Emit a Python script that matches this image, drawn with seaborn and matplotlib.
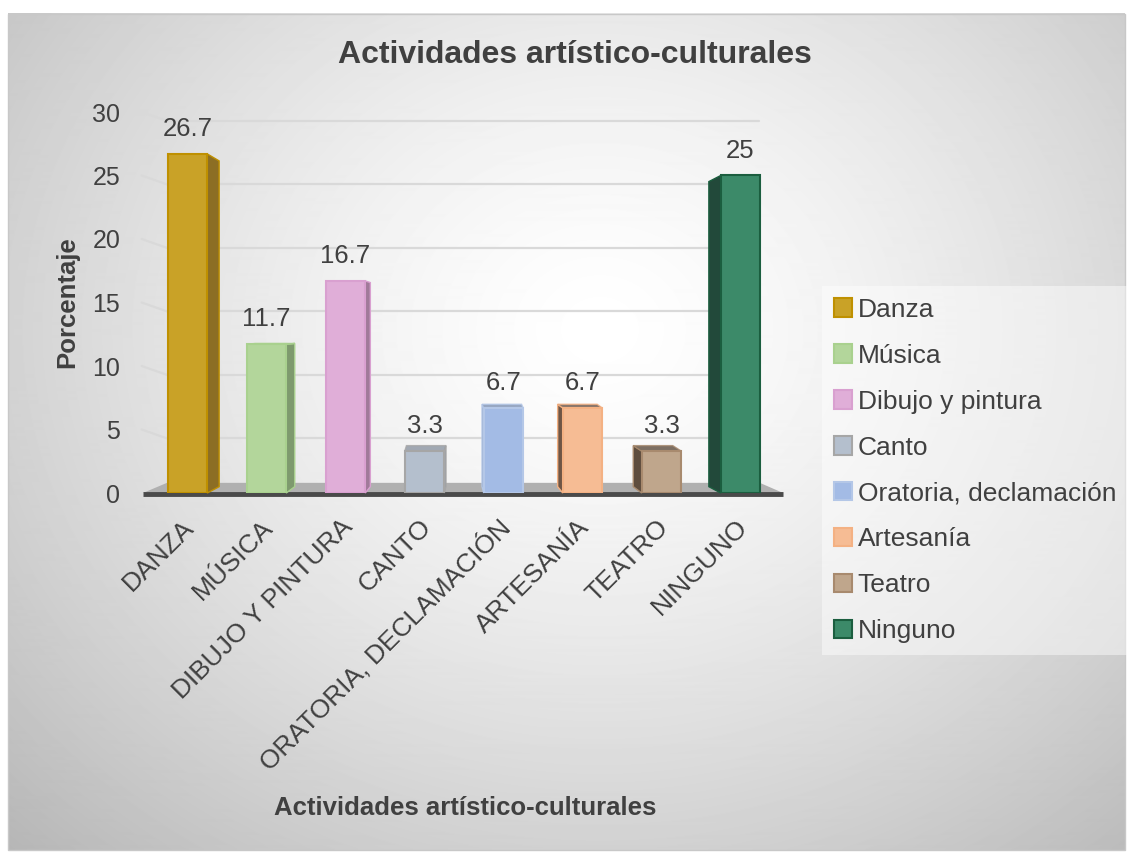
import numpy as np
import pandas as pd
import matplotlib.pyplot as plt
import matplotlib.transforms as mtransforms
from matplotlib.patches import Polygon, Patch, Rectangle
import seaborn as sns

# Datos de la grafica
categorias = ["DANZA", "MÚSICA", "DIBUJO Y PINTURA", "CANTO",
              "ORATORIA, DECLAMACIÓN", "ARTESANÍA", "TEATRO", "NINGUNO"]
leyenda = ["Danza", "Música", "Dibujo y pintura", "Canto",
           "Oratoria, declamación", "Artesanía", "Teatro", "Ninguno"]
porcentaje = [26.7, 11.7, 16.7, 3.3, 6.7, 6.7, 3.3, 25]

# Colores (frente, borde, lado)
relleno = ["#C9A227", "#B3D69B", "#E0AED8", "#B4BFCD",
           "#A3BBE5", "#F6BC94", "#BFA68C", "#3C8A69"]
borde = ["#BF9000", "#A9D18E", "#D9A0D0", "#A6A6A6",
         "#B4C7E7", "#F4B183", "#A88A6E", "#1B5E3F"]
lado = ["#8C6E24", "#7E9A6E", "#A07A99", "#8D96A3",
        "#7F93B5", "#6E5545", "#5E4D3E", "#22493A"]

df = pd.DataFrame({"Actividad": categorias, "Porcentaje": porcentaje})

sns.set_theme(style="white")
plt.rcParams["font.family"] = ["Liberation Sans", "DejaVu Sans"]
texto = "#404040"

W, H = 1129, 855
fig = plt.figure(figsize=(W / 100, H / 100), dpi=100, facecolor="white")

# Fondo con degradado radial
bg = fig.add_axes([0, 0, 1, 1], zorder=-10)
bg.set_xlim(0, W)
bg.set_ylim(H, 0)
bg.axis("off")
yy, xx = np.mgrid[14:850, 8:1125]
r = np.hypot((xx - 600) / 700.0, (yy - 330) / 600.0)
grad = np.clip(1.0 - 0.22 * r ** 1.4, 0, 1)
bg.imshow(grad, extent=[8, 1125, 850, 14], cmap="gray", vmin=0, vmax=1,
          aspect="auto", interpolation="bilinear")
bg.add_patch(Rectangle((8, 14), 1117, 836, fill=False, edgecolor="#c8c8c8", lw=1))

# Area de grafico
ax = fig.add_axes([148 / W, 1 - 493 / H, 632 / W, 381 / H], zorder=1)
ax.patch.set_alpha(0)

sns.barplot(data=df, x="Actividad", y="Porcentaje", hue="Actividad",
            palette=relleno, saturation=1, width=0.5, legend=False,
            ax=ax, zorder=3)
ax.set_ylim(0, 30)
ax.set_xlim(-0.5, 7.5)

blend = mtransforms.blended_transform_factory(ax.transAxes, ax.transData)

# Lineas de division en perspectiva (pared lateral + pared del fondo)
ticks_y = list(range(0, 31, 5))
for v in ticks_y[1:]:
    ax.plot([-0.01, 0.03], [v, v - 0.7], transform=blend, color="#d9d9d9",
            lw=1.6, zorder=1, clip_on=False)
    ax.plot([0.03, 0.967], [v - 0.7, v - 0.7], transform=blend,
            color="#d9d9d9", lw=1.6, zorder=1, clip_on=False)

# Suelo 3D
suelo = Polygon([(-0.008, 0), (0.03, 0.8), (0.968, 0.8), (1.005, 0)],
                closed=True, transform=blend, facecolor="#b0b0b0",
                edgecolor="none", zorder=2, clip_on=False)
ax.add_patch(suelo)
ax.plot([-0.008, 1.005], [-0.1, -0.1], transform=blend, color="#4a4a4a",
        lw=3.5, solid_capstyle="butt", clip_on=False, zorder=2)

# Caras laterales y superiores, barra por barra
for i, bar in enumerate(ax.patches[:len(porcentaje)]):
    bar.set_edgecolor(borde[i])
    bar.set_linewidth(1.5)
    x0 = bar.get_x()
    x1 = x0 + bar.get_width()
    h = bar.get_height()
    dx = (3.5 - i) * 0.043
    t = 0.57 - 0.042 * h
    xe = x1 if dx > 0 else x0
    ax.add_patch(Polygon([(xe, 0), (xe + dx, 0.5), (xe + dx, h + t), (xe, h)],
                         closed=True, facecolor=lado[i], edgecolor=borde[i],
                         lw=1, zorder=2.8, clip_on=False))
    if t > 0:
        ax.add_patch(Polygon([(x0, h), (x1, h), (x1 + dx, h + t), (x0 + dx, h + t)],
                             closed=True, facecolor=lado[i], alpha=0.8,
                             edgecolor=borde[i], lw=1, zorder=2.9, clip_on=False))
    ax.annotate(f"{porcentaje[i]:g}", (bar.get_x() + bar.get_width() / 2, h),
                xytext=(0, 18), textcoords="offset points", ha="center",
                va="center", fontsize=18.5, color=texto)

# Ejes
ax.set_yticks(ticks_y)
for s in ax.spines.values():
    s.set_visible(False)
ax.tick_params(axis="y", length=0, pad=20, labelsize=18, labelcolor=texto)
ax.tick_params(axis="x", length=0, pad=22, labelsize=19, labelcolor=texto)
ax.set_xticks(range(len(categorias)))
ax.set_xticklabels(categorias, rotation=45, ha="right", va="center",
                   rotation_mode="anchor")
desplaza = mtransforms.ScaledTranslation(0.03, 0, fig.dpi_scale_trans)
for lab in ax.get_xticklabels():
    lab.set_transform(lab.get_transform() + desplaza)

ax.set_ylabel("Porcentaje", fontsize=18.5, fontweight="bold", color=texto)
ax.yaxis.set_label_coords(-0.127, 0.5)
ax.yaxis.label.set_va("center")
ax.set_xlabel("Actividades artístico-culturales", fontsize=18.5,
              fontweight="bold", color=texto)
ax.xaxis.set_label_coords(0.502, -0.827)
ax.xaxis.label.set_va("center")

fig.text(575 / W, 1 - 55 / H, "Actividades artístico-culturales",
         ha="center", va="center", fontsize=23, fontweight="bold", color=texto)

# Leyenda
handles = [Patch(facecolor=relleno[i], edgecolor=borde[i], lw=1.5)
           for i in range(len(leyenda))]
fig.legend(handles, leyenda, loc="upper left",
           bbox_to_anchor=(822 / W, 1 - 286 / H), frameon=True,
           facecolor="white", framealpha=0.45, edgecolor="none",
           fancybox=False, fontsize=19, labelcolor=texto,
           handlelength=0.7, handleheight=0.7, handletextpad=0.2,
           labelspacing=0.83, borderpad=0.45, borderaxespad=0)

fig.savefig("out.png", dpi=100)
